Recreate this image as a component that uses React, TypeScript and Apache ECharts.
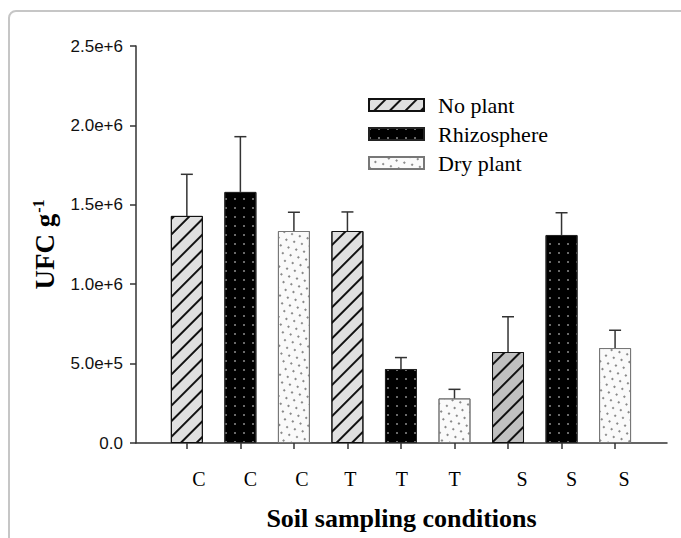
import React, { useEffect, useRef } from 'react';
import * as echarts from 'echarts';

// ---- data ----
const categories = ['C', 'C', 'C', 'T', 'T', 'T', 'S', 'S', 'S'];
const seriesNames = ['No plant', 'Rhizosphere', 'Dry plant'];
// one value per condition (C, T, S) for each series
const noPlantMean = [1430000, 1335000, 573000];
const noPlantSE = [262000, 120000, 222000];
const rhizoMean = [1581000, 466000, 1310000];
const rhizoSE = [348000, 72000, 140000];
const dryMean = [1335000, 281000, 598000];
const drySE = [118000, 57000, 112000];
const yTicks = [0, 500000, 1000000, 1500000, 2000000, 2500000];

// ---- layout / style ----
const labelShift = [12, 10, 8, 3, 1, 0, 14, 10, 9];
const SERIF = "'Liberation Serif', 'Times New Roman', serif";
const SANS = "'Liberation Sans', Arial, sans-serif";

function fmt(v: number): string {
  if (v === 0) return '0.0';
  return v.toExponential(1);
}

export default function App() {
  const ref = useRef<HTMLDivElement>(null);
  useEffect(() => {
    if (!ref.current) return;
    const chart = echarts.init(ref.current, null, { renderer: 'svg' });

    const groups = [
      { name: seriesNames[0], mean: noPlantMean, se: noPlantSE, offset: 0 },
      { name: seriesNames[1], mean: rhizoMean, se: rhizoSE, offset: 1 },
      { name: seriesNames[2], mean: dryMean, se: drySE, offset: 2 },
    ];

    const decals: any[] = [
      { symbol: 'rect', color: '#111', dashArrayX: [1, 0], dashArrayY: [1.2, 8.5], symbolSize: 1, rotation: -Math.PI / 4 },
      { symbol: 'rect', color: '#6a6a6a', dashArrayX: [1.5, 6.5], dashArrayY: [1.5, 6.5], symbolSize: 1, rotation: 0 },
      { symbol: 'rect', color: '#8a8a8a', dashArrayX: [[2, 6], [0, 4, 2, 2]], dashArrayY: [1.2, 4.5], symbolSize: 1, rotation: -Math.PI / 4 },
    ];
    const fills = ['#e0e0e0', '#000000', '#fafafa'];
    const borders = ['#111', '#222', '#777'];

    const barSeries = groups.map((g, gi) => ({
      name: g.name,
      type: 'bar',
      barWidth: 32,
      barGap: '-100%',
      itemStyle: { color: fills[gi], borderColor: borders[gi], borderWidth: 1, decal: decals[gi] },
      data: g.mean.map((m, k) => {
        const x = k * 3 + g.offset + 1;
        const item: any = { value: [x, m] };
        if (gi === 0 && k === 2) item.itemStyle = { color: '#c0c0c0' };
        return item;
      }),
      z: 2,
    }));

    const errData: number[][] = [];
    groups.forEach((g) => {
      g.mean.forEach((m, k) => {
        errData.push([k * 3 + g.offset + 1, m, m + g.se[k]]);
      });
    });

    const errSeries = {
      type: 'custom',
      name: 'err',
      z: 3,
      data: errData,
      renderItem: (params: any, api: any) => {
        const x = api.value(0);
        const p0 = api.coord([x, api.value(1)]);
        const p1 = api.coord([x, api.value(2)]);
        const style = { stroke: '#333', lineWidth: 1.5 };
        return {
          type: 'group',
          children: [
            { type: 'line', shape: { x1: p0[0], y1: p0[1], x2: p1[0], y2: p1[1] }, style },
            { type: 'line', shape: { x1: p1[0] - 6, y1: p1[1], x2: p1[0] + 6, y2: p1[1] }, style },
          ],
        };
      },
    };

    const rich: any = {};
    labelShift.forEach((s, i) => {
      rich['o' + i] = { fontFamily: SERIF, fontSize: 20, color: '#000', padding: [0, 0, 0, s * 2] };
    });

    chart.setOption({
      animation: false,
      backgroundColor: '#ffffff',
      graphic: [
        {
          type: 'rect',
          silent: true,
          z: -10,
          shape: { x: 9, y: 11, width: 720, height: 600, r: 7 },
          style: { fill: 'none', stroke: '#c6c6c6', lineWidth: 2 },
        },
      ],
      legend: {
        data: seriesNames,
        orient: 'vertical',
        left: 368,
        top: 93,
        padding: 0,
        itemWidth: 55,
        itemHeight: 12,
        itemGap: 5,
        icon: 'rect',
        textStyle: { fontFamily: SERIF, fontSize: 22, color: '#000', lineHeight: 24, padding: [0, 0, 0, 9] },
      },
      grid: { left: 136, right: 14, top: 46, bottom: 95, containLabel: false, outerBoundsMode: 'none' },
      xAxis: {
        type: 'value',
        min: 0.05,
        max: 9.97,
        splitLine: { show: false },
        axisLine: { show: true, lineStyle: { color: '#333', width: 1.5 } },
        axisTick: { show: true, customValues: [1, 2, 3, 4, 5, 6, 7, 8, 9], length: 6, lineStyle: { color: '#333', width: 1.5 } },
        axisLabel: {
          customValues: [1, 2, 3, 4, 5, 6, 7, 8, 9],
          margin: 26,
          formatter: (v: number) => {
            const i = Math.round(v) - 1;
            return '{o' + i + '|' + categories[i] + '}';
          },
          rich,
        },
        name: 'Soil sampling conditions',
        nameLocation: 'middle',
        nameGap: 62,
        nameTextStyle: { fontFamily: SERIF, fontWeight: 'bold', fontSize: 26, color: '#000' },
      },
      yAxis: {
        type: 'value',
        min: yTicks[0],
        max: yTicks[yTicks.length - 1],
        interval: yTicks[1] - yTicks[0],
        splitLine: { show: false },
        axisLine: { show: true, lineStyle: { color: '#333', width: 1.5 } },
        axisTick: { show: true, length: 6, lineStyle: { color: '#333', width: 1.5 } },
        axisLabel: { formatter: fmt, fontFamily: SANS, fontSize: 17, color: '#111', margin: 13 },
        name: '{b|UFC g}{s|-1}',
        nameLocation: 'middle',
        nameGap: 76,
        nameRotate: 90,
        nameTextStyle: {
          rich: {
            b: { fontFamily: SERIF, fontWeight: 'bold', fontSize: 27, color: '#000' },
            s: { fontFamily: SERIF, fontWeight: 'bold', fontSize: 16, color: '#000', verticalAlign: 'top', padding: [0, 0, 14, 1] },
          },
        },
      },
      series: [...barSeries, errSeries],
    } as any);

    return () => chart.dispose();
  }, []);

  return <div ref={ref} style={{ position: 'fixed', left: 0, top: 0, width: 681, height: 538 }} />;
}
